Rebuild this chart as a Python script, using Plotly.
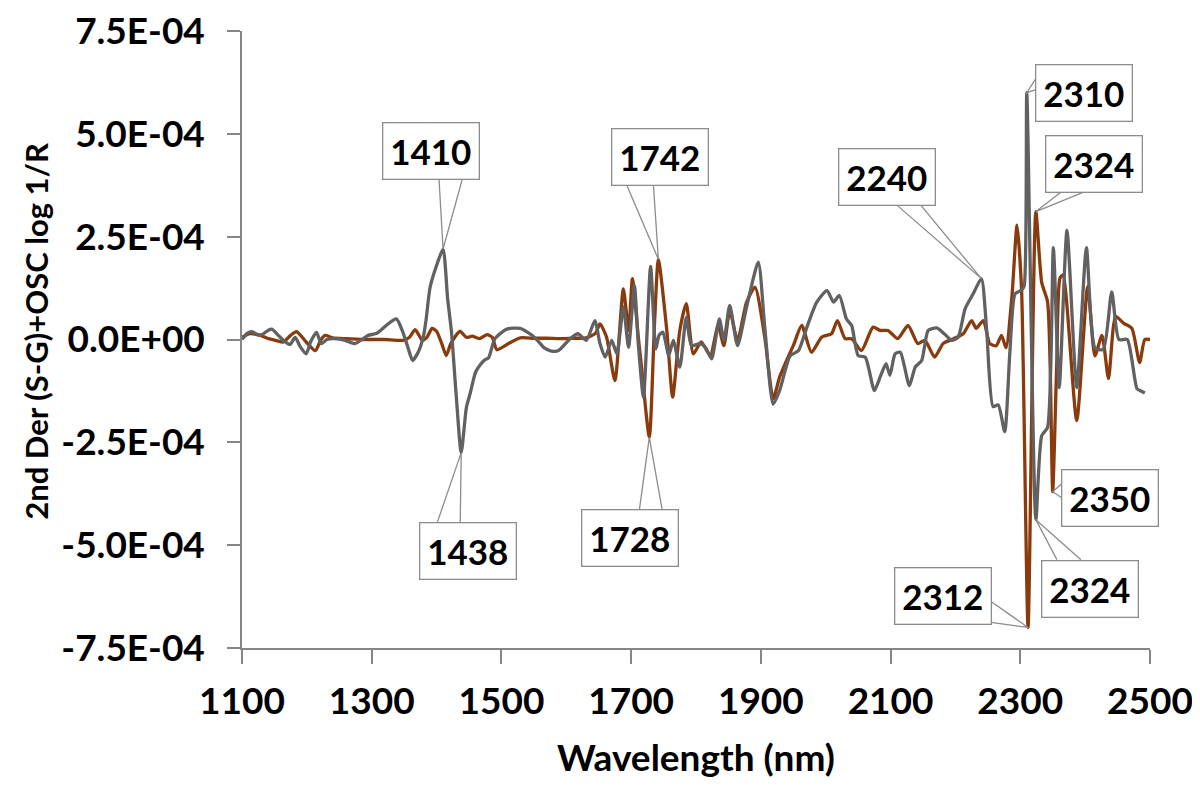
import numpy as np
import plotly.graph_objects as go

# ---------------- data (values in units of 1E-04) ----------------
gray_nm = [1100, 1108, 1115, 1125, 1131, 1140, 1146, 1156, 1165, 1174, 1182, 1190, 1199, 1206, 1215,
           1222, 1231, 1243, 1259, 1274, 1285, 1294, 1308, 1323, 1338, 1348, 1356, 1363, 1372, 1380,
           1384, 1390, 1400, 1410, 1417, 1423, 1430, 1438, 1446, 1452, 1460, 1467, 1474, 1480, 1490,
           1508, 1529, 1549, 1560, 1565, 1577, 1588, 1606, 1618, 1631, 1644, 1652, 1660, 1670, 1678,
           1688, 1696, 1705, 1711, 1719, 1730, 1738, 1743, 1749, 1758, 1765, 1775, 1785, 1793, 1806,
           1815, 1824, 1836, 1843, 1852, 1864, 1878, 1896, 1906, 1919, 1929, 1945, 1958, 1971, 1986,
           2002, 2012, 2021, 2032, 2040, 2050, 2061, 2075, 2084, 2093, 2099, 2107, 2115, 2129, 2138,
           2148, 2158, 2171, 2184, 2194, 2204, 2215, 2228, 2240, 2248, 2258, 2266, 2276, 2284, 2292,
           2302, 2306, 2310, 2324, 2333, 2342, 2351, 2360, 2372, 2387, 2402, 2415, 2428, 2441, 2452,
           2465, 2480, 2486, 2492]
gray_val = [0.0, 0.15, 0.19, 0.11, 0.12, 0.22, 0.25, 0.1, -0.04, -0.12, 0.05, -0.18, -0.35, -0.05, 0.17,
            -0.1, 0.0, 0.02, -0.02, -0.1, 0.0, 0.1, 0.15, 0.35, 0.5, 0.18, -0.2, -0.51, -0.3, 0.1,
            0.5, 1.27, 1.8, 2.2, 1.0, 0.18, -1.3, -2.75, -1.65, -1.3, -0.8, -0.62, -0.5, -0.45, 0.02,
            0.25, 0.27, 0.08, -0.1, -0.19, -0.28, -0.27, 0.02, 0.14, -0.02, 0.46, -0.1, -0.43, -0.02, -0.35,
            0.79, -0.19, 1.31, -0.1, -1.4, 1.78, -0.23, 0.1, 0.18, -0.39, -0.02, -0.67, 0.54, -0.15, -0.1,
            -0.2, -0.47, 0.5, -0.02, 0.83, -0.15, 0.79, 1.88, 0.3, -1.57, -1.24, -0.4, -0.27, 0.3, 0.9,
            1.19, 0.91, 1.07, 0.5, 0.34, -0.39, -0.43, -1.24, -0.91, -0.59, -0.87, -0.35, -0.31, -1.12, -0.67,
            -0.51, 0.22, 0.28, 0.12, -0.02, 0.05, 0.75, 1.13, 1.48, 0.27, -1.63, -1.59, -2.24, -0.29, 1.11,
            1.2, 1.3, 6.0, -4.38, -2.34, -2.14, 2.23, -1.17, 2.65, -1.17, 2.23, -0.2, -0.24, 1.16, 0.0,
            0.0, -1.2, -1.25, -1.3]

brown_nm = [1100, 1112, 1128, 1141, 1152, 1164, 1175, 1184, 1199, 1213, 1222, 1228, 1240, 1260, 1290,
            1320, 1348, 1358, 1367, 1378, 1385, 1393, 1400, 1408, 1415, 1422, 1436, 1446, 1455, 1466,
            1478, 1486, 1493, 1513, 1529, 1550, 1570, 1590, 1610, 1630, 1645, 1652, 1662, 1675, 1688,
            1696, 1702, 1711, 1716, 1728, 1736, 1742, 1755, 1764, 1775, 1785, 1796, 1808, 1822, 1834,
            1843, 1852, 1864, 1878, 1891, 1906, 1919, 1929, 1940, 1950, 1963, 1978, 1994, 2009, 2018,
            2030, 2040, 2055, 2073, 2084, 2096, 2111, 2127, 2142, 2153, 2168, 2181, 2197, 2212, 2225,
            2232, 2243, 2253, 2263, 2271, 2278, 2287, 2295, 2302, 2312, 2324, 2333, 2342, 2346, 2350,
            2356, 2361, 2366, 2387, 2404, 2415, 2426, 2436, 2447, 2459, 2472, 2484, 2492, 2500]
brown_val = [0.05, 0.14, 0.1, 0.02, -0.02, -0.06, 0.1, 0.19, -0.06, -0.27, 0.0, 0.1, 0.04, 0.02, 0.0,
             0.0, -0.02, 0.05, 0.24, -0.02, 0.05, 0.27, 0.2, -0.1, -0.39, -0.1, 0.2, 0.05, 0.08, 0.02,
             0.12, 0.05, -0.25, -0.08, 0.04, 0.03, 0.03, 0.02, 0.03, 0.04, 0.15, 0.38, 0.06, -1.0, 1.23,
             0.22, 1.48, 0.06, -0.67, -2.38, 0.38, 1.95, 0.22, -1.4, 0.22, 0.87, -0.35, -0.06, -0.39, 0.34,
             -0.15, 0.7, -0.02, 0.91, 1.27, 0.06, -1.44, -0.91, -0.5, -0.15, 0.34, -0.31, 0.06, 0.14, 0.46,
             0.02, 0.02, -0.27, 0.3, 0.22, 0.22, 0.02, 0.34, -0.1, -0.02, -0.43, -0.1, 0.02, 0.14, 0.46,
             0.27, 0.46, -0.1, -0.15, 0.1, -0.2, 1.02, 2.78, 1.2, -7.0, 3.11, 1.39, 0.92, -0.6, -3.7,
             -0.7, 1.48, 1.57, -1.97, 1.29, -0.4, 0.1, -0.95, 0.56, 0.4, 0.27, -0.56, 0.0, 0.0]

UNIT = 1e-4
gray_y = np.array(gray_val) * UNIT
brown_y = np.array(brown_val) * UNIT

y_tickvals = [7.5e-4, 5.0e-4, 2.5e-4, 0.0, -2.5e-4, -5.0e-4, -7.5e-4]
y_ticktext = ["7.5E-04", "5.0E-04", "2.5E-04", "0.0E+00", "-2.5E-04", "-5.0E-04", "-7.5E-04"]
x_tickvals = [1100, 1300, 1500, 1700, 1900, 2100, 2300, 2500]

y_title = "2nd Der (S-G)+OSC log 1/R"
x_title = "Wavelength (nm)"

# callouts: (series, wavelength, label)
callouts = [
    ("gray", 1410, "1410"),
    ("gray", 1438, "1438"),
    ("brown", 1742, "1742"),
    ("brown", 1728, "1728"),
    ("gray", 2240, "2240"),
    ("gray", 2310, "2310"),
    ("brown", 2324, "2324"),
    ("brown", 2350, "2350"),
    ("gray", 2324, "2324"),
    ("brown", 2312, "2312"),
]
# layout of each callout: box-centre offset and wedge base points (screen px, y down)
callout_layout = [
    ((-12, -98), (-4, -69), (19, -69)),
    ((7, 98), (-24, 70), (-1, 70)),
    ((2, -102), (-32, -75), (-5, -75)),
    ((-19, 101), (-10, 73), (13, 73)),
    ((-94, -102), (-85, -74), (-61, -74)),
    ((57, 0), (9, -14), (9, -3)),
    ((58, -48), (26, -20), (49, -20)),
    ((57, 6), (9, -8), (9, 6)),
    ((54, 69), (21, 40), (45, 40)),
    ((-85, -31), (-37, -26), (-37, -5)),
]

GRAY = "#616161"
BROWN = "#8a3b0e"
AXIS = "#868686"
FONT = "Lato"

fig = go.Figure()
fig.add_trace(go.Scatter(x=brown_nm, y=brown_y, mode="lines",
                         line=dict(color=BROWN, width=3.3, shape="spline", smoothing=0.6),
                         showlegend=False, hoverinfo="skip"))
fig.add_trace(go.Scatter(x=gray_nm, y=gray_y, mode="lines",
                         line=dict(color=GRAY, width=3.3, shape="spline", smoothing=0.6),
                         showlegend=False, hoverinfo="skip"))

series = {"gray": (gray_nm, gray_y), "brown": (brown_nm, brown_y)}
annotations = []
shapes = []
for (s, wl, label), (off, b1, b2) in zip(callouts, callout_layout):
    xs, ys = series[s]
    tip_y = float(ys[list(xs).index(wl)])
    annotations.append(dict(
        x=wl, y=tip_y, xref="x", yref="y", text=label, showarrow=True,
        ax=off[0], ay=off[1], arrowcolor="rgba(0,0,0,0)", arrowwidth=0.1, arrowhead=0,
        font=dict(family=FONT, size=35, color="black", weight="bold"),
        bgcolor="white", bordercolor="#8c8c8c", borderwidth=1.3, borderpad=2,
        width=91, height=51, align="center", valign="middle"))
    shapes.append(dict(
        type="path", xref="x", yref="y", xsizemode="pixel", ysizemode="pixel",
        xanchor=wl, yanchor=tip_y,
        path=f"M {b1[0]},{-b1[1]} L 0,0 L {b2[0]},{-b2[1]}",
        line=dict(color="#8c8c8c", width=1.3), layer="above"))

# y-axis title as a rotated annotation for exact placement
annotations.append(dict(
    text=y_title, textangle=-90, xref="paper", yref="paper", x=-0.2269, y=0.514,
    xanchor="center", yanchor="middle", showarrow=False,
    font=dict(family=FONT, size=31, color="black", weight="bold")))

# the page body adds an 8 px margin, so the figure is sized/offset to compensate
fig.update_layout(
    width=1192, height=771,
    margin=dict(l=234, r=50, t=23, b=131),
    paper_bgcolor="white", plot_bgcolor="white",
    annotations=annotations, shapes=shapes,
    font=dict(family=FONT, color="black"),
)
fig.update_xaxes(
    range=[1100, 2500], tickvals=x_tickvals, automargin=False, ticklabeloverflow="allow",
    showgrid=False, zeroline=False, showline=True, linecolor=AXIS, linewidth=1.5,
    ticks="outside", ticklen=14, tickcolor=AXIS, tickwidth=1.5,
    tickfont=dict(family=FONT, size=37, color="black", weight="bold"),
    ticklabelstandoff=6,
    title=dict(text=x_title, font=dict(family=FONT, size=37, color="black", weight="bold"),
               standoff=32),
)
fig.update_yaxes(
    range=[-7.5e-4, 7.5e-4], tickvals=y_tickvals, ticktext=y_ticktext, automargin=False,
    ticklabeloverflow="allow",
    showgrid=False, zeroline=False, showline=True, linecolor=AXIS, linewidth=1.5,
    ticks="outside", ticklen=13, tickcolor=AXIS, tickwidth=1.5,
    tickfont=dict(family=FONT, size=37, color="black", weight="bold"),
    ticklabelstandoff=15,
)

fig.write_html("out.html")
